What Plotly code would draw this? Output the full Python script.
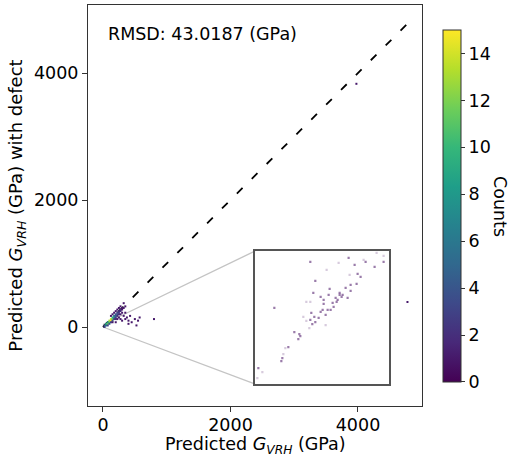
import plotly.graph_objects as go

# 2D histogram cells (bin centre in GPa) and their counts
main_x = [25, 25, 50, 50, 75, 75, 100, 100, 125, 125, 150, 150, 175, 175, 200, 200,
          225, 225, 250, 250, 275, 275, 300, 300, 325, 350,
          75, 100, 125, 150, 175, 200, 225, 250, 150, 200, 225, 250, 275, 300, 275,
          325, 350, 350, 375, 400, 425, 450, 500, 550, 525, 575, 800, 200, 300, 400,
          125, 175, 200, 225, 250, 275, 325, 150,
          3975, 4776]
main_y = [25, 0, 25, 50, 50, 75, 75, 100, 100, 125, 125, 150, 150, 175, 175, 200,
          200, 225, 225, 250, 250, 275, 275, 300, 300, 325,
          25, 50, 75, 100, 125, 150, 175, 200, 75, 125, 125, 150, 200, 225, 125,
          175, 125, 225, 150, 100, 175, 75, 125, 100, 25, 150, 125, 75, 100, 50,
          175, 225, 250, 275, 300, 325, 375, 200,
          3830, 394]
main_counts = [4, 3, 6, 9, 12, 8, 11, 13, 15, 14, 12, 9, 7, 6, 5, 4,
               4, 3, 3, 2, 2, 2, 1, 1, 1, 1,
               3, 4, 3, 4, 3, 3, 2, 2, 1, 2, 1, 1, 1, 1, 1,
               1, 1, 1, 1, 1, 1, 1, 1, 1, 1, 1, 1, 1, 1, 1,
               1, 1, 1, 1, 1, 1, 1, 1,
               1, 1]

# zoomed view near the origin (GPa)
inset_x = [28.0, 38.5, 16.5, 33.1, 29.8, 35.8, 30.7, 31.6, 18.0, 28.6, 30.4, 22.3,
           27.1, 25.3, 17.4, 28.6, 22.0, 25.3, 25.9, 26.2, 19.6, 24.1, 24.7, 27.7,
           20.5, 23.2, 24.4, 20.5, 23.5, 20.2, 21.7, 22.6, 5.7, 19.6, 16.8, 17.7,
           19.0, 21.1, 16.5, 18.0, 17.1, 11.7, 13.2, 13.5, 12.9, 9.9, 8.1, 7.8, 0.9]
inset_y = [37.9, 36.7, 36.7, 36.7, 35.8, 35.2, 33.1, 32.2, 31.0, 29.8, 30.1, 28.6,
           28.9, 27.4, 27.4, 28.0, 26.8, 26.8, 26.2, 26.8, 26.2, 25.9, 25.3, 25.9,
           25.3, 24.4, 24.7, 24.1, 23.2, 22.3, 22.3, 22.3, 22.9, 21.7, 21.4, 20.2,
           19.9, 20.8, 19.3, 18.6, 18.0, 15.6, 15.0, 14.4, 13.5, 11.1, 7.8, 6.9, 4.8]
inset_faint_x = [36.4, 38.5, 25.0, 32.5, 21.4, 28.3, 16.5, 15.3, 14.4, 15.3, 21.1,
                 16.2, 9.0, 8.4, 2.1, 0.6]
inset_faint_y = [39.4, 38.5, 36.4, 37.3, 34.3, 32.8, 24.7, 24.7, 20.2, 19.0, 17.7,
                 16.8, 10.8, 9.0, 3.6, 1.8]

rmsd_text = "RMSD: 43.0187 (GPa)"
x_title = "Predicted <i>G</i><sub><i>VRH</i></sub> (GPa)"
y_title = "Predicted <i>G</i><sub><i>VRH</i></sub> (GPa) with defect"
cbar_ticks = [0, 2, 4, 6, 8, 10, 12, 14]

FONT = "DejaVu Sans"
FS = 17.5
X_RANGE = [-235, 5004]
Y_RANGE = [-1244, 5071]
ZOOM = [0, 40]                       # inset axis range (both axes)
INSET_BOX = [2390, 4480, -900, 1200]  # inset placement in main data coords

def frac(v, rng):
    return (v - rng[0]) / (rng[1] - rng[0])

all_vals = main_x + main_y
lo, hi = min(all_vals), max(all_vals)

fig = go.Figure()

# y = x reference line
fig.add_trace(go.Scatter(x=[lo, hi], y=[lo, hi], mode="lines",
                         line=dict(color="black", width=1.8, dash="8px,13px"),
                         hoverinfo="skip", showlegend=False))

fig.add_trace(go.Scatter(
    x=main_x, y=main_y, mode="markers", showlegend=False,
    marker=dict(symbol="square", size=2, color=main_counts,
                colorscale="Viridis", cmin=0, cmax=15, line=dict(width=0),
                colorbar=dict(x=(443 - 88) / 334, xanchor="left", y=0.4988,
                              yanchor="middle", xpad=0, ypad=0,
                              thickness=18, lenmode="pixels", len=352,
                              outlinewidth=1, outlinecolor="#333",
                              tickvals=cbar_ticks, ticks="outside", ticklen=4,
                              tickcolor="#333",
                              tickfont=dict(family=FONT, size=FS, color="black"))),
))

fig.add_trace(go.Scatter(
    x=inset_faint_x, y=inset_faint_y, xaxis="x2", yaxis="y2", mode="markers",
    showlegend=False,
    marker=dict(symbol="square", size=2.2, color="#471164", opacity=0.22,
                line=dict(width=0))))
fig.add_trace(go.Scatter(
    x=inset_x, y=inset_y, xaxis="x2", yaxis="y2", mode="markers",
    showlegend=False,
    marker=dict(symbol="square", size=2.2, color="#471164", opacity=0.55,
                line=dict(width=0))))

axis_common = dict(showline=True, mirror=True, linecolor="#333", linewidth=1,
                   ticks="outside", ticklen=5, tickwidth=1, tickcolor="#333",
                   showgrid=False, zeroline=False,
                   tickfont=dict(family=FONT, size=FS, color="black"))

bx0, bx1, by0, by1 = INSET_BOX
fig.update_layout(
    width=510, height=456,
    margin=dict(l=88, r=88, t=5, b=50, autoexpand=False),
    paper_bgcolor="white", plot_bgcolor="white",
    xaxis=dict(range=X_RANGE, tickvals=[0, 2000, 4000], domain=[0, 1],
               ticklabelstandoff=-2, **axis_common),
    yaxis=dict(range=Y_RANGE, tickvals=[0, 2000, 4000], domain=[0, 1],
               title=dict(text=y_title, font=dict(family=FONT, size=18, color="black"),
                          standoff=6),
               **axis_common),
    xaxis2=dict(domain=[frac(bx0, X_RANGE), frac(bx1, X_RANGE)], anchor="y2",
                range=ZOOM, showticklabels=False, ticks="", showgrid=False,
                zeroline=False, showline=True, mirror=True, linecolor="#555",
                linewidth=1.5),
    yaxis2=dict(domain=[frac(by0, Y_RANGE), frac(by1, Y_RANGE)], anchor="x2",
                range=ZOOM, showticklabels=False, ticks="", showgrid=False,
                zeroline=False, showline=True, mirror=True, linecolor="#555",
                linewidth=1.5),
    shapes=[
        dict(type="line", xref="x", yref="y", x0=ZOOM[0], y0=ZOOM[1], x1=bx0, y1=by1,
             line=dict(color="#c4c4c4", width=1.3), layer="below"),
        dict(type="line", xref="x", yref="y", x0=ZOOM[0], y0=ZOOM[0], x1=bx0, y1=by0,
             line=dict(color="#c4c4c4", width=1.3), layer="below"),
    ],
    annotations=[
        dict(text=x_title, xref="paper", yref="paper", x=0.5,
             y=(406 - 445) / 401, xanchor="center", yanchor="middle",
             showarrow=False, font=dict(family=FONT, size=17.5, color="black")),
        dict(text=rmsd_text, xref="paper", yref="paper", x=(106 - 88) / 334,
             y=(406 - 34) / 401, xanchor="left", yanchor="middle", showarrow=False,
             font=dict(family=FONT, size=FS, color="black")),
        dict(text="Counts", xref="paper", yref="paper", x=(500 - 88) / 334,
             y=0.4988, xanchor="center", yanchor="middle", textangle=90,
             showarrow=False, font=dict(family=FONT, size=FS, color="black")),
    ],
)

fig.write_html("out.html")
